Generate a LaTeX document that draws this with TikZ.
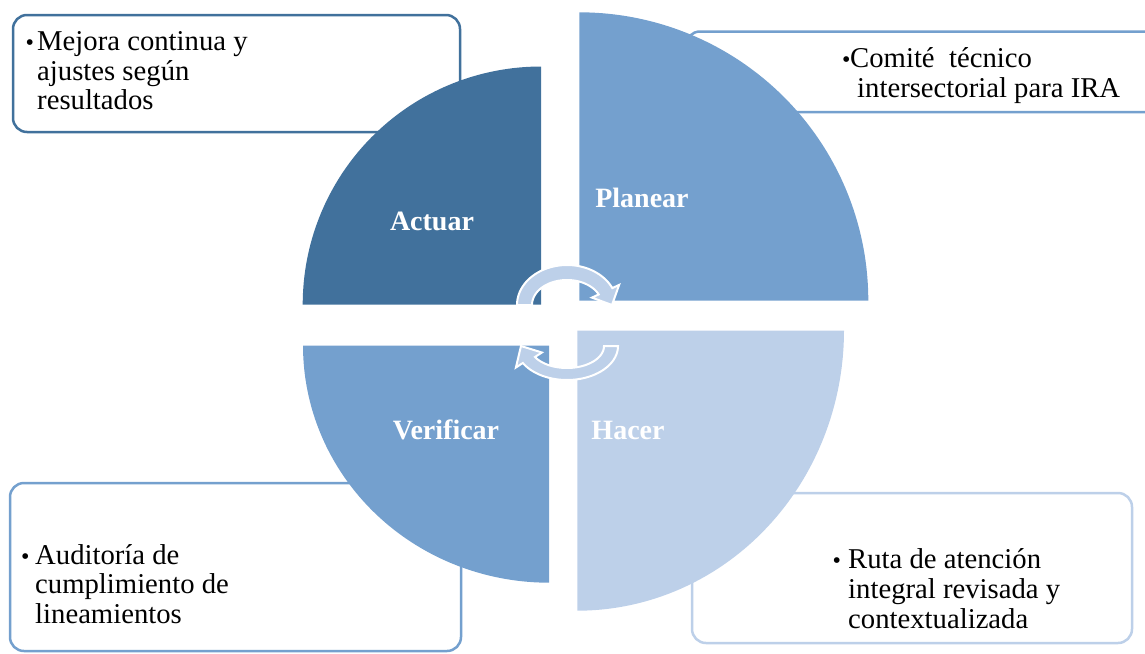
\documentclass[tikz,border=0pt]{standalone}
\usepackage{fontspec}
\setmainfont{Liberation Serif}
\definecolor{cdark}{RGB}{65,113,156}
\definecolor{cmed}{RGB}{116,160,206}
\definecolor{clight}{RGB}{189,208,233}
\tikzset{
  txtbox/.style={line width=2.5pt, fill=white, rounded corners=14pt},
  boxtxt/.style={anchor=base west, inner sep=0pt, font=\fontsize{28.7}{30}\selectfont, text=black},
  bul/.style={anchor=base west, inner sep=0pt, font=\fontsize{24}{24}\selectfont, text=black},
  qlabel/.style={inner sep=0pt, font=\fontsize{28}{30}\selectfont\bfseries, text=white},
  cyclearrow/.style={fill=clight, draw=white, line width=2pt, line join=miter},
}
\begin{document}
\begin{tikzpicture}[x=1pt,y=-1pt]
\useasboundingbox (0,0) rectangle (1145,653);
% text boxes (under the quadrants)
\draw[txtbox, draw=cdark] (13,15) rectangle (460,132);
\draw[txtbox, draw=cmed] (686,31.5) rectangle (1170,112);
\draw[txtbox, draw=cmed] (10,483) rectangle (461,651);
\draw[txtbox, draw=clight] (692,493) rectangle (1132,643);
% quadrants
\fill[cdark] (541,304.5) -- plot[domain=180:270,samples=80] ({541+238.3*cos(\x)},{304.5+238*sin(\x)}) -- cycle;
\fill[cmed] (579.3,300.5) -- plot[domain=270:360,samples=80] ({579.3+289*cos(\x)},{300.5+288.2*sin(\x)}) -- cycle;
\fill[cmed] (549,345.7) -- plot[domain=90:180,samples=80] ({549+246*cos(\x)},{345.7+237*sin(\x)}) -- cycle;
\fill[clight] (577.3,330.5) -- plot[domain=0:90,samples=80] ({577.3+266.7*cos(\x)},{330.5+280.2*sin(\x)}) -- cycle;
% circular arrows
\filldraw[cyclearrow] plot[domain=180:335,samples=50] ({567+50*cos(\x)},{305+40*sin(\x)})
  -- ({567+57.5*cos(335)},{305+47.5*sin(335)})
  -- (612,305)
  -- ({567+27.5*cos(335)},{305+17.5*sin(335)})
  -- plot[domain=335:180,samples=50] ({567+35*cos(\x)},{305+25*sin(\x)}) -- cycle;
\filldraw[cyclearrow] plot[domain=0:150,samples=50] ({567+51*cos(\x)},{346+34*sin(\x)})
  -- ({567+59*cos(150)},{346+43*sin(150)})
  -- (521,346)
  -- ({567+29*cos(150)},{346+13*sin(150)})
  -- plot[domain=150:0,samples=50] ({567+37*cos(\x)},{346+22*sin(\x)}) -- cycle;
% quadrant labels
\node[qlabel] (actuar) at (432,221) {Actuar};
\node[qlabel] (planear) at (642,198) {Planear};
\node[qlabel] (verificar) at (446,430) {Verificar};
\node[qlabel] (hacer) at (628,430) {Hacer};
% top-left box text
\node[bul] (b1) at (25.3,50.5) {\textbullet};
\node[boxtxt] (t1a) at (37,50.5) {Mejora continua y};
\node[boxtxt] (t1b) at (37,80) {ajustes según};
\node[boxtxt] (t1c) at (37,109.5) {resultados};
% top-right box text
\node[bul] (b2) at (842,67.5) {\textbullet};
\node[boxtxt] (t2a) at (850,67.5) {Comité\ \ técnico};
\node[boxtxt] (t2b) at (857,97) {intersectorial para IRA};
% bottom-left box text
\node[bul] (b3) at (21,564) {\textbullet};
\node[boxtxt] (t3a) at (35,564) {Auditoría de};
\node[boxtxt] (t3b) at (35,593.5) {cumplimiento de};
\node[boxtxt] (t3c) at (35,623) {lineamientos};
% bottom-right box text
\node[bul] (b4) at (832.5,568) {\textbullet};
\node[boxtxt] (t4a) at (848,568) {Ruta de atención};
\node[boxtxt] (t4b) at (848,598) {integral revisada y};
\node[boxtxt] (t4c) at (848,628) {contextualizada};
\end{tikzpicture}
\end{document}
